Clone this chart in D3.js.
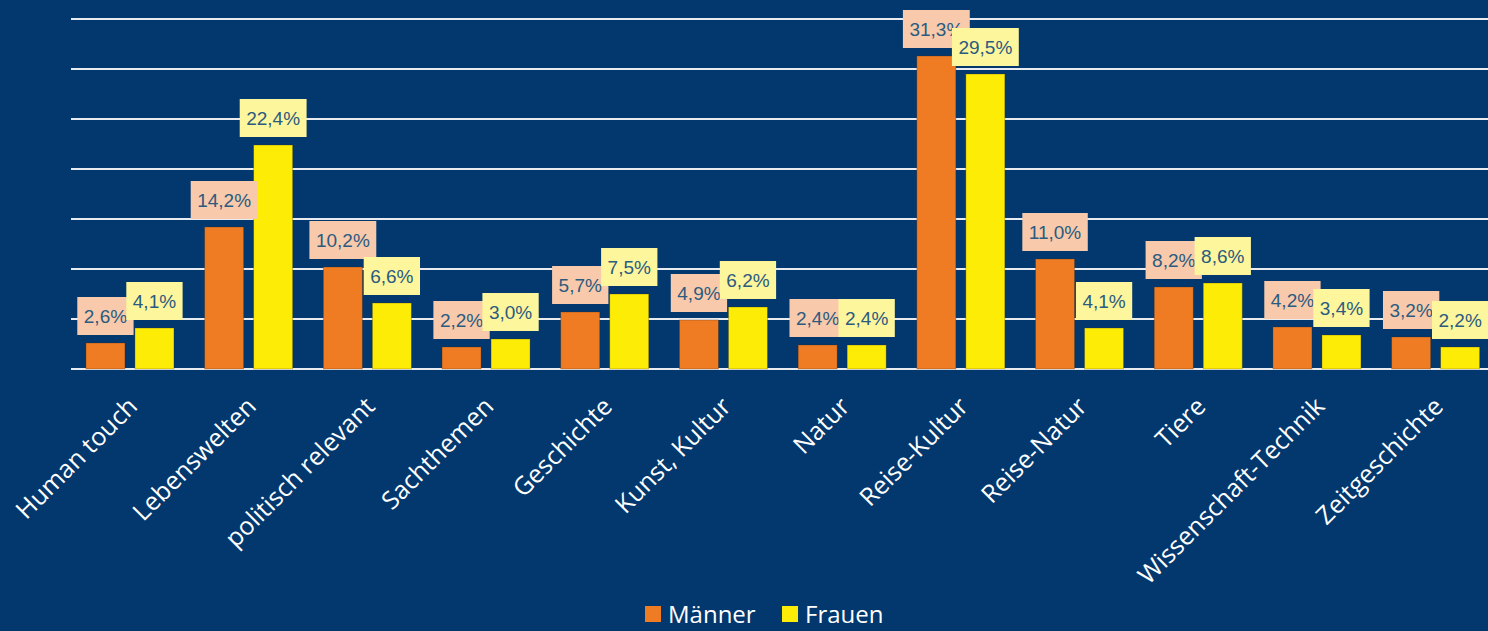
<!DOCTYPE html>
<html>
<head>
<meta charset="utf-8">
<script src="https://cdn.jsdelivr.net/npm/d3@7"></script>
<style>
  html, body { margin: 0; padding: 0; background: #02386e; }
  svg { display: block; }
</style>
</head>
<body>
<svg id="chart"></svg>
<script>
const categories = ['Human touch', 'Lebenswelten', 'politisch relevant', 'Sachthemen', 'Geschichte',
  'Kunst, Kultur', 'Natur', 'Reise-Kultur', 'Reise-Natur', 'Tiere', 'Wissenschaft-Technik', 'Zeitgeschichte'];
const maenner = [2.6, 14.2, 10.2, 2.2, 5.7, 4.9, 2.4, 31.3, 11.0, 8.2, 4.2, 3.2];
const frauen = [4.1, 22.4, 6.6, 3.0, 7.5, 6.2, 2.4, 29.5, 4.1, 8.6, 3.4, 2.2];
const yTicks = [0, 5, 10, 15, 20, 25, 30, 35];
const seriesNames = ['Männer', 'Frauen'];

const width = 1488, height = 631;
const colors = { 'Männer': '#ef7b22', 'Frauen': '#fdec06' };
const boxColors = { 'Männer': '#f8c9aa', 'Frauen': '#fdf69c' };

const svg = d3.select('#chart').attr('width', width).attr('height', height);

const x0 = d3.scaleBand().domain(categories).range([70.6, 1495]);
const x1 = d3.scaleBand().domain(seriesNames).range([0, x0.bandwidth()])
  .paddingInner(0.204).paddingOuter(0.313);
const y = d3.scaleLinear().domain([0, 35]).range([369, 19]);

// gridlines
svg.append('g')
  .selectAll('line')
  .data(yTicks)
  .join('line')
  .attr('x1', 71).attr('x2', width)
  .attr('y1', d => y(d)).attr('y2', d => y(d))
  .style('stroke', '#e8ebf0')
  .style('stroke-width', 2);

const rows = categories.map((c, i) => ({ cat: c, values: [
  { key: 'Männer', value: maenner[i] },
  { key: 'Frauen', value: frauen[i] }
] }));

const groups = svg.append('g')
  .selectAll('g')
  .data(rows)
  .join('g')
  .attr('transform', d => `translate(${x0(d.cat)},0)`);

groups.selectAll('rect')
  .data(d => d.values)
  .join('rect')
  .attr('x', d => x1(d.key))
  .attr('width', x1.bandwidth())
  .attr('y', d => y(d.value))
  .attr('height', d => y(0) - y(d.value))
  .style('fill', d => colors[d.key])
  .style('stroke', 'rgba(60,40,20,0.35)')
  .style('stroke-width', 0.8);

// data labels: all Männer first, then Frauen on top
const fmt = v => v.toFixed(1).replace('.', ',') + '%';
seriesNames.forEach(name => {
  const lab = svg.append('g');
  rows.forEach(r => {
    const v = r.values.find(d => d.key === name);
    const cx = x0(r.cat) + x1(name) + x1.bandwidth() / 2;
    const bottom = y(v.value) - 8;
    const g = lab.append('g');
    const rect = g.append('rect').style('fill', boxColors[name]);
    const t = g.append('text')
      .attr('x', cx)
      .attr('y', bottom - 12)
      .attr('text-anchor', 'middle')
      .style('font-family', '"Liberation Sans", Arial, sans-serif')
      .style('font-size', '19px')
      .style('fill', '#2b5b80')
      .text(fmt(v.value));
    const w = t.node().getComputedTextLength() + 13;
    rect.attr('x', cx - w / 2).attr('y', bottom - 38).attr('width', w).attr('height', 38);
  });
});

// category labels
svg.append('g')
  .selectAll('text')
  .data(categories)
  .join('text')
  .attr('transform', d => `translate(${x0(d) + x0.bandwidth() / 2 + 9},408) rotate(-45)`)
  .attr('text-anchor', 'end')
  .style('font-family', '"Open Sans", sans-serif')
  .style('font-size', '25px')
  .style('fill', '#ffffff')
  .text(d => d);

// legend
const legend = svg.append('g');
const legendPos = [{ sx: 645, tx: 668 }, { sx: 782, tx: 805 }];
seriesNames.forEach((name, i) => {
  legend.append('rect')
    .attr('x', legendPos[i].sx).attr('y', 606)
    .attr('width', 16).attr('height', 16)
    .style('fill', colors[name]);
  legend.append('text')
    .attr('x', legendPos[i].tx).attr('y', 623)
    .style('font-family', '"Open Sans", sans-serif')
    .style('font-size', '24px')
    .style('fill', '#ffffff')
    .text(name);
});
</script>
</body>
</html>
